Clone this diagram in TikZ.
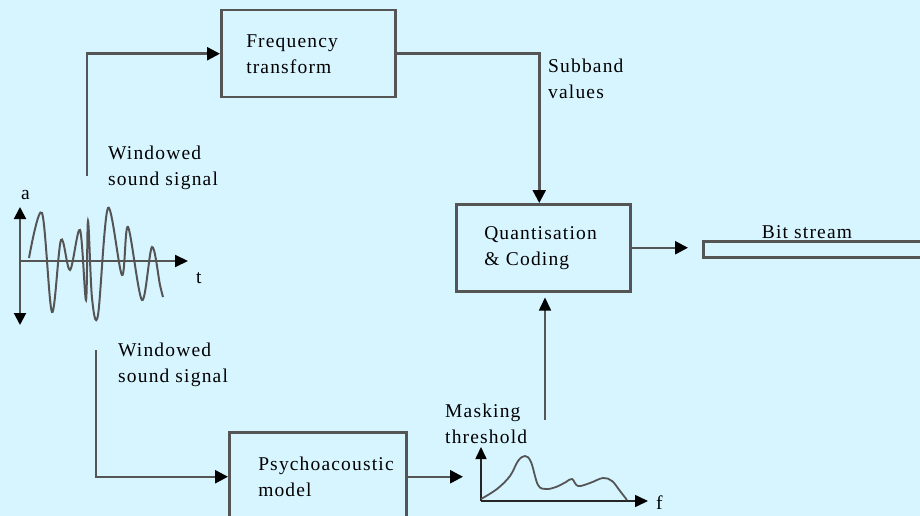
\documentclass[tikz,border=0pt]{standalone}
\usepackage{fontspec}
\setmainfont{Liberation Serif}[LetterSpace=6]
\usetikzlibrary{arrows.meta,calc}
\definecolor{bgc}{HTML}{D7F5FF}
\definecolor{lc}{HTML}{555555}
\begin{document}
\begin{tikzpicture}[x=1pt,y=-1pt,
  txt/.style={font=\fontsize{19.5}{26}\selectfont, inner sep=0pt, align=left, text=black},
  box/.style={draw=lc, line width=2.5pt, fill=bgc, txt, anchor=north west, inner ysep=0pt},
  conn/.style={draw=lc, line width=2.5pt},
  arr/.style={conn, -{Triangle[length=13pt,width=13pt,color=black]}},
  wave/.style={draw=lc, line width=2pt},
]
\useasboundingbox (0,0) rectangle (920,516);
\fill[bgc] (0,0) rectangle (920,516);
\clip (0,0) rectangle (920,516);

% boxes
\node[box, minimum width=174pt, minimum height=87pt, inner xsep=25pt, text width=124pt] (ft) at (220,9) {Frequency\\transform};
\node[box, minimum width=174pt, minimum height=87pt, inner xsep=28pt, text width=118pt] (qc) at (455,203) {Quantisation\\\& Coding};
\node[box, minimum width=177pt, minimum height=89pt, inner xsep=29pt, text width=119pt] (pm) at (228,431) {Psychoacoustic\\model};
\node[draw=lc, line width=2.5pt, fill=bgc, anchor=north west, minimum width=220pt, minimum height=16pt, inner sep=0pt] (bs) at (702,240) {};
\node[txt, anchor=south] (bsl) at (807,239) {Bit stream};

% labels
\node[txt, anchor=west] (sub) at (548,79) {Subband\\values};
\node[txt, anchor=west] (w1) at (108,168) {Windowed\\sound signal};
\node[txt, anchor=west] (w2) at (118,365) {Windowed\\sound signal};
\node[txt, anchor=west] (mt) at (445,424) {Masking\\threshold};
\node[txt, anchor=west] (la) at (21,195) {a};
\node[txt, anchor=west] (lt) at (196,278) {t};
\node[txt, anchor=west] (lf) at (656,503) {f};

% connectors
\coordinate (wtop) at (87,176);
\coordinate (wbot) at (96,350);
\coordinate (mk) at (545,420);
\coordinate (mo) at (481,501);
\draw[arr] (wtop) |- (ft.west);
\draw[arr] (ft.east) -| ([xshift=-4pt]qc.north);
\draw[arr, shorten >=14pt] (qc.east) -- (qc.east -| bs.west);
\draw[arr] (wbot) |- (pm.west);
\draw[arr, shorten >=18pt] (pm.east) -- (pm.east -| mo);
\draw[draw=lc, line width=1.6pt, -{Triangle[length=13pt,width=12pt,color=black]}, shorten >=5pt] (mk) -- (mk |- qc.south);

% waveform axes
\coordinate (ao) at (20,261);
\draw[conn, line width=2pt, {Triangle[length=12pt,width=12pt,color=black]}-{Triangle[length=12pt,width=12pt,color=black]}] (20,207) -- (20,325);
\draw[conn, line width=2pt, -{Triangle[length=13pt,width=12pt,color=black]}] (ao) -- (188,261);
% waveform
\draw[wave] plot[smooth, tension=0.55] coordinates {
 (29,258) (42,213) (52,312) (61,240) (70,270) (80,230) (86,300) (88,221) (92,298) (98,315) (108,208) (122,275) (128,227) (142,300) (152,247) (160,285) (163,297)};

% masking graph
\draw[draw=black!85, line width=1.6pt, -{Triangle[length=12pt,width=11pt,color=black]}] (mo) -- (481,447);
\draw[draw=black!85, line width=1.6pt, -{Triangle[length=13pt,width=12pt,color=black]}] (mo) -- (648,501);
\draw[wave, line width=1.8pt] plot[smooth, tension=0.6] coordinates {
 (481,499) (497,489) (510,476) (518,461) (525,456) (531,462) (538,485) (546,489) (556,487) (566,482) (572,479) (578,486) (590,483) (603,478) (612,481) (620,491) (627,500)};
\end{tikzpicture}
\end{document}
